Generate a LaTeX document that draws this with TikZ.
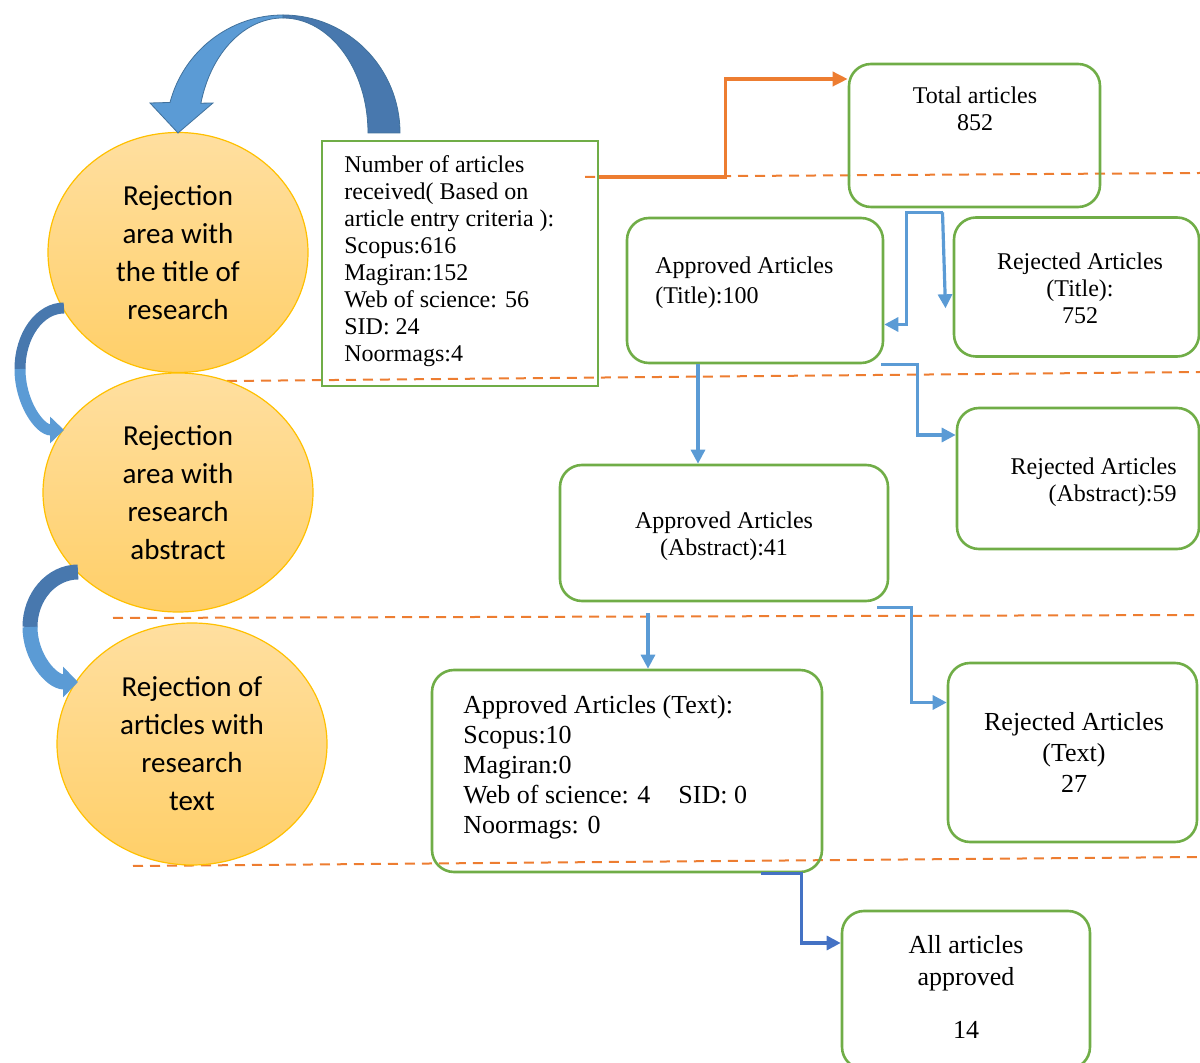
\documentclass[tikz,border=0pt]{standalone}
\usepackage{fontspec}
\setmainfont{Liberation Serif}
\newfontfamily\zonefont{Carlito}
\usetikzlibrary{shapes.geometric,arrows.meta,positioning}
\definecolor{boxgreen}{HTML}{70AD47}
\definecolor{dashorange}{HTML}{ED7D31}
\definecolor{flowblue}{HTML}{5B9BD5}
\definecolor{flowdark}{HTML}{4472C4}
\definecolor{arrowdark}{HTML}{4878AE}
\definecolor{arrowlight}{HTML}{5B9BD5}
\definecolor{arrowedge}{HTML}{41719C}
\definecolor{zonetop}{HTML}{FFDFA0}
\definecolor{zonebot}{HTML}{FFCF68}
\definecolor{zoneedge}{HTML}{FFC000}

\tikzset{
  zone/.style={ellipse, draw=zoneedge, line width=0.6pt, top color=zonetop,
    bottom color=zonebot, align=center, inner sep=0pt,
    font=\zonefont\fontsize{14.5}{19}\selectfont},
  box/.style={draw=boxgreen, line width=1.3pt, rounded corners=11pt, inner sep=0pt},
  listbox/.style={draw=boxgreen, line width=1.3pt, inner sep=0pt},
  txt/.style={inner sep=0pt, font=\fontsize{12}{13.5}\selectfont},
  bigtxt/.style={inner sep=0pt, font=\fontsize{13}{15}\selectfont},
  flow/.style={draw=flowblue, line width=1.6pt, -{Triangle[width=7pt,length=7pt]}},
  sepline/.style={draw=dashorange, line width=1pt, dash pattern=on 5pt off 3.5pt},
}

\begin{document}
\begin{tikzpicture}[x=0.5pt,y=-0.5pt]
\useasboundingbox (0,0) rectangle (1200,1063);

% lignes de separation entre les etapes
\draw[sepline] (585,177) -- (1200,173);
\draw[sepline] (227,381) -- (1200,372);
\draw[sepline] (113,618) -- (1200,615);
\draw[sepline] (133,866) -- (1200,857);

% zones de rejet
\node[zone, minimum width=130pt, minimum height=120pt] (zonetitle) at (178,252.5)
  {Rejection\\area with\\the title of\\research};
\node[zone, minimum width=135pt, minimum height=119.5pt] (zoneabs) at (178,492.5)
  {Rejection\\area with\\research\\abstract};
\node[zone, minimum width=135pt, minimum height=121pt] (zonetext) at (192,744)
  {Rejection of\\articles with\\research\\text};

% grande fleche courbe
\filldraw[fill=arrowdark, draw=arrowedge, line width=0.4pt]
  (400,133) arc[start angle=0, end angle=-90, x radius=117, y radius=118]
  -- (283,18) arc[start angle=-90, end angle=0, x radius=85, y radius=115] -- cycle;
\filldraw[fill=arrowlight, draw=arrowedge, line width=0.4pt]
  (283,15) arc[start angle=-90, end angle=-165, x radius=117, y radius=118]
  -- (150,103) -- (178,133) -- (213,103) -- (200.9,103.2)
  arc[start angle=-165, end angle=-90, x radius=85, y radius=115] -- cycle;

% petites fleches courbes
\draw[arrowdark, line width=5.5pt] (64,308) arc[start angle=-90, end angle=-180, x radius=44, y radius=61];
\draw[arrowlight, line width=5.5pt, -{Triangle[width=13pt,length=7pt]}]
  (20,369) arc[start angle=180, end angle=90, x radius=44, y radius=61];
\draw[arrowdark, line width=7.5pt] (78,572) arc[start angle=-90, end angle=-180, x radius=48, y radius=55];
\draw[arrowlight, line width=7.5pt, -{Triangle[width=15pt,length=7.5pt]}]
  (30,627) arc[start angle=180, end angle=90, x radius=48, y radius=55];

% boites
\node[listbox, minimum width=138pt, minimum height=122.5pt] (numbox) at (460,263.5) {};
\node[txt, anchor=north west, align=left] (numtxt) at (344,155)
  {Number of articles\\received( Based on\\article entry criteria ):\\Scopus:616\\Magiran:152\\Web of science: 56\\SID: 24\\Noormags:4};

\node[box, minimum width=125.5pt, minimum height=71.5pt] (total) at (974.5,135.5) {};
\node[txt, anchor=north, align=center] (totaltxt) at (975,86) {Total articles\\852};

\node[box, minimum width=128pt, minimum height=72.5pt] (apptitle) at (755,290.5) {};
\node[txt, anchor=north west, align=left, font=\fontsize{12}{15}\selectfont] (apptitletxt) at (655,256)
  {Approved Articles\\(Title):100};

\node[box, minimum width=122.5pt, minimum height=69.5pt] (rejtitle) at (1076.5,287) {};
\node[txt, anchor=north, align=center] (rejtitletxt) at (1080,252) {Rejected Articles\\(Title):\\752};

\node[box, minimum width=121pt, minimum height=70.5pt] (rejabs) at (1078,478.5) {};
\node[txt, anchor=north east, align=right] (rejabstxt) at (1177,457) {Rejected Articles\\(Abstract):59};

\node[box, minimum width=164pt, minimum height=68pt] (appabs) at (724,533) {};
\node[txt, anchor=north, align=center] (appabstxt) at (724,511) {Approved Articles\\(Abstract):41};

\node[box, minimum width=195pt, minimum height=101pt] (apptext) at (627,771) {};
\node[bigtxt, anchor=north west, align=left] (apptexttxt) at (463,695)
  {Approved Articles (Text):\\Scopus:10\\Magiran:0\\Web of science: 4\hspace{14pt}SID: 0\\Noormags: 0};

\node[box, minimum width=124.5pt, minimum height=89.5pt] (rejtext) at (1072.5,752.5) {};
\node[bigtxt, anchor=north, align=center, font=\fontsize{13}{15.5}\selectfont] (rejtexttxt) at (1074,712)
  {Rejected Articles\\(Text)\\27};

\node[box, minimum width=124pt, minimum height=79pt] (allapp) at (966,990) {};
\node[bigtxt, anchor=north, align=center, font=\fontsize{13}{16}\selectfont] (allapptxt) at (966,935)
  {All articles\\approved\\[10.5pt]14};

% liaisons
\draw[draw=dashorange, line width=1.75pt, -{Triangle[width=7pt,length=7.5pt]}]
  ([yshift=43.25pt]numbox.east) -- ++(63pt,0) |- ([yshift=28.25pt]total.west);
\draw[flow] ([xshift=-16pt,yshift=-2pt]total.south) -- ++(-18pt,0) |- ([yshift=-17pt]apptitle.east);
\draw[flow] ([xshift=-16pt,yshift=-2pt]total.south) -- ++(1.5pt,-48pt);
\draw[flow] ([xshift=-28.5pt]apptitle.south) -- ([xshift=-13pt]appabs.north);
\draw[flow] ([xshift=-1.5pt]apptitle.south east) -- ++(18pt,0) |- ([yshift=21.75pt]rejabs.west);
\draw[flow] ([xshift=-38pt,yshift=-5.5pt]appabs.south) -- ([xshift=10.5pt]apptext.north);
\draw[flow] ([xshift=-6pt,yshift=-2.5pt]appabs.south east) -- ++(17pt,0) |- ([yshift=25pt]rejtext.west);
\draw[flow, draw=flowdark] ([xshift=-31pt]apptext.south east) -- ++(20pt,0) |- ([yshift=23.5pt]allapp.west);
\end{tikzpicture}
\end{document}
